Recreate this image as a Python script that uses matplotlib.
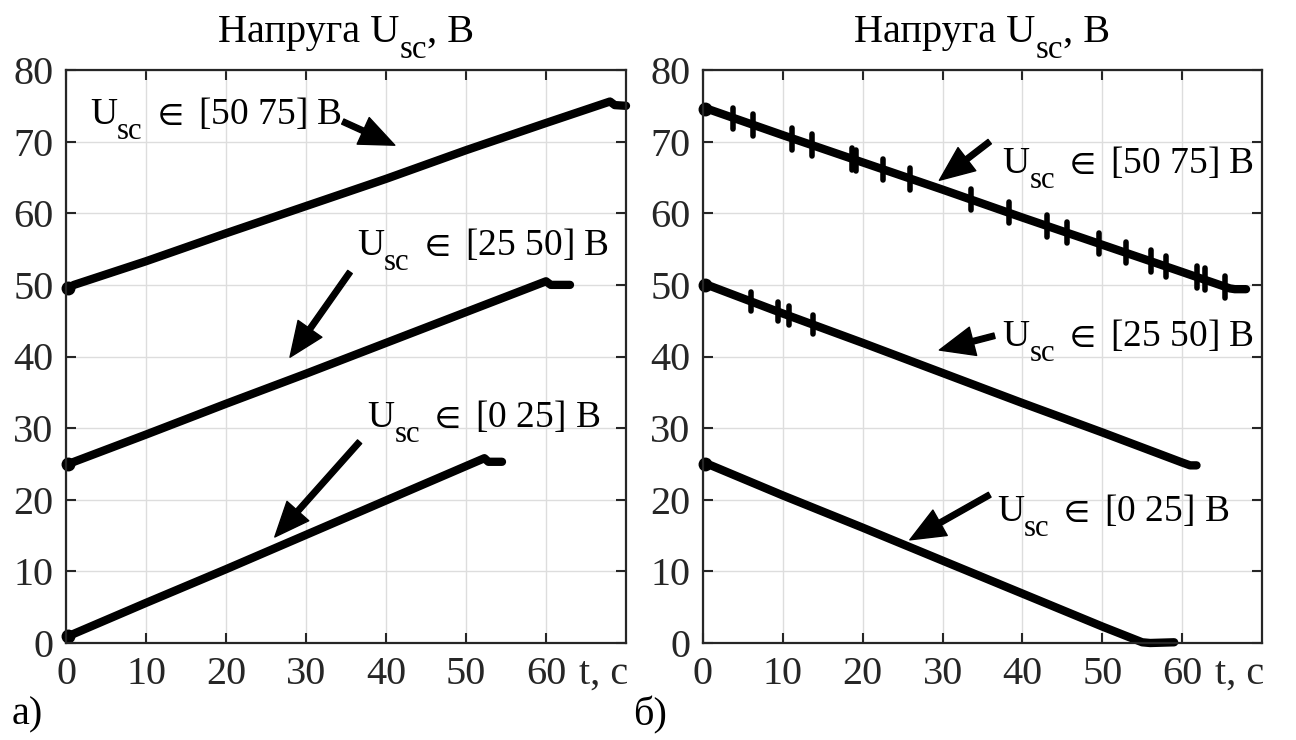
import numpy as np
import matplotlib
matplotlib.use('Agg')
import matplotlib.pyplot as plt

plt.rcParams['font.family'] = ['Liberation Serif', 'DejaVu Serif']
plt.rcParams['mathtext.fontset'] = 'stix'

# ---- дані ----
# а) заряд
t_a1 = [0.3, 1.0, 10, 20, 30, 40, 50, 60, 68, 68.6, 70]
u_a1 = [49.6, 50.0, 53.3, 57.2, 61.0, 64.8, 68.8, 72.6, 75.6, 75.1, 75.0]
t_a2 = [0.3, 1.0, 10, 20, 30, 40, 50, 60, 60.6, 63]
u_a2 = [25.0, 25.3, 29.1, 33.4, 37.6, 41.9, 46.2, 50.5, 50.0, 50.0]
t_a3 = [0.3, 1.0, 10, 20, 30, 40, 50, 52.3, 52.8, 54.5]
u_a3 = [1.0, 1.3, 5.6, 10.3, 15.1, 19.9, 24.7, 25.8, 25.3, 25.3]

# б) розряд
t_b1 = [0.3, 1.0, 10, 20, 30, 40, 50, 60, 66, 66.6, 68]
u_b1 = [74.6, 74.4, 70.9, 67.1, 63.3, 59.4, 55.6, 51.8, 49.5, 49.4, 49.4]
t_b2 = [0.3, 1.0, 10, 20, 30, 40, 50, 60, 61, 61.8]
u_b2 = [50.0, 49.8, 46.0, 41.9, 37.7, 33.5, 29.4, 25.2, 24.8, 24.8]
t_b3 = [0.3, 1.0, 10, 20, 30, 40, 50, 55, 56, 59]
u_b3 = [25.0, 24.8, 20.6, 16.1, 11.5, 6.9, 2.3, 0.1, 0.0, 0.1]

# викиди (шум) на кривих розряду
sp_t1 = [3.8, 6.25, 11.2, 13.7, 18.6, 19.2, 22.5, 25.9, 33.5, 38.3, 43.1,
         45.6, 49.6, 53.0, 56.1, 58.0, 61.9, 62.8, 65.4]
sp_u1 = [73.2, 72.3, 70.4, 69.5, 67.6, 67.4, 66.1, 64.8, 61.9, 60.1, 58.2,
         57.3, 55.8, 54.5, 53.3, 52.6, 51.1, 50.8, 49.7]
sp_t2 = [6.0, 9.4, 10.8, 13.75]
sp_u2 = [47.7, 46.3, 45.7, 44.5]

xticks = [0, 10, 20, 30, 40, 50, 60]
yticks = [0, 10, 20, 30, 40, 50, 60, 70, 80]

# частини тексту: (рядок, чи індекс)
title = [('Напруга U', False), ('sc', True), (', В', False)]
lab_1 = [('U', False), ('sc', True), (' $\\in$ [50 75] В', False)]
lab_2 = [('U', False), ('sc', True), (' $\\in$ [25 50] В', False)]
lab_3 = [('U', False), ('sc', True), (' $\\in$ [0 25] В', False)]

# (текст x, базова лінія y; хвіст стрілки; вістря стрілки)
ann_a = [(lab_1, (3.0, 72.4), (34.6, 72.8), (41.1, 69.5)),
         (lab_2, (36.4, 54.2), (35.5, 51.8), (28.0, 39.9)),
         (lab_3, (37.7, 30.2), (36.7, 28.1), (26.1, 14.8))]
ann_b = [(lab_1, (37.5, 65.6), (35.9, 70.0), (29.6, 64.6)),
         (lab_2, (37.5, 41.5), (36.5, 42.9), (29.6, 40.9)),
         (lab_3, (36.8, 17.0), (35.9, 20.7), (25.9, 14.4))]

FS = 29
FS_ANN = 27
fig = plt.figure(figsize=(12.96, 7.4), dpi=100)
ax_a = fig.add_axes([66 / 1296, 1 - 643 / 740, 560 / 1296, 573 / 740])
ax_b = fig.add_axes([703 / 1296, 1 - 643 / 740, 559 / 1296, 573 / 740])
rend = fig.canvas.get_renderer()


def rich(ax, xy, xycoords, parts, fs, center=False):
    # текст з великим опущеним індексом, як у MATLAB
    items = []
    off = 0.0
    for s, sub in parts:
        size = fs * 0.82 if sub else fs
        dy = -fs * 0.40 if sub else 0.0
        a = ax.annotate(s, xy=xy, xycoords=xycoords, xytext=(off, dy),
                        textcoords='offset points', fontsize=size,
                        va='baseline', ha='left', annotation_clip=False)
        w = a.get_window_extent(rend).width * 72 / fig.dpi
        items.append((a, off, dy))
        off += w
    if center:
        for a, o, dy in items:
            a.xyann = (o - off / 2, dy)


def setup(ax):
    ax.set_xlim(0, 70)
    ax.set_ylim(0, 80)
    ax.set_xticks(xticks)
    ax.set_yticks(yticks)
    ax.grid(True, color='#dddddd', lw=1.0)
    ax.set_axisbelow(True)
    ax.tick_params(direction='in', top=True, right=True, length=7, width=1.5,
                   labelsize=FS, colors='#262626', pad=9)
    for s in ax.spines.values():
        s.set_linewidth(1.6)
        s.set_color('#262626')
    rich(ax, (0.5, 1 - 42 / 740), ('axes fraction', 'figure fraction'),
         title, FS, center=True)
    ax.annotate('t, c', xy=(67.2, 0), xycoords=('data', 'axes fraction'),
                xytext=(0, -9), textcoords='offset points',
                ha='center', va='top', fontsize=FS, color='#262626')


def arrows(ax, items):
    for parts, pos, tail, tip in items:
        rich(ax, pos, 'data', parts, FS_ANN)
        ax.annotate('', xy=tip, xytext=tail,
                    arrowprops=dict(facecolor='black', edgecolor='black',
                                    width=4, headwidth=21, headlength=25,
                                    shrink=0))


lw = 6
for ax in (ax_a, ax_b):
    setup(ax)

for t, u in ((t_a1, u_a1), (t_a2, u_a2), (t_a3, u_a3)):
    ax_a.plot(t, u, color='black', lw=lw, solid_capstyle='round',
              solid_joinstyle='round', clip_on=False)
    ax_a.plot(t[0], u[0], 'o', color='black', ms=9, clip_on=False)
for t, u in ((t_b1, u_b1), (t_b2, u_b2), (t_b3, u_b3)):
    ax_b.plot(t, u, color='black', lw=lw, solid_capstyle='round',
              solid_joinstyle='round', clip_on=False)
    ax_b.plot(t[0], u[0], 'o', color='black', ms=9, clip_on=False)

ax_b.vlines(sp_t1, np.array(sp_u1) - 1.5, np.array(sp_u1) + 1.5,
            color='black', lw=4, capstyle='round')
ax_b.vlines(sp_t2, np.array(sp_u2) - 1.3, np.array(sp_u2) + 1.3,
            color='black', lw=4, capstyle='round')

arrows(ax_a, ann_a)
arrows(ax_b, ann_b)

fig.text(12 / 1296, 1 - 715 / 740, 'а)', fontsize=FS, va='center', ha='left')
fig.text(633 / 1296, 1 - 715 / 740, 'б)', fontsize=FS, va='center', ha='left')

fig.savefig('out.png', dpi=100)
